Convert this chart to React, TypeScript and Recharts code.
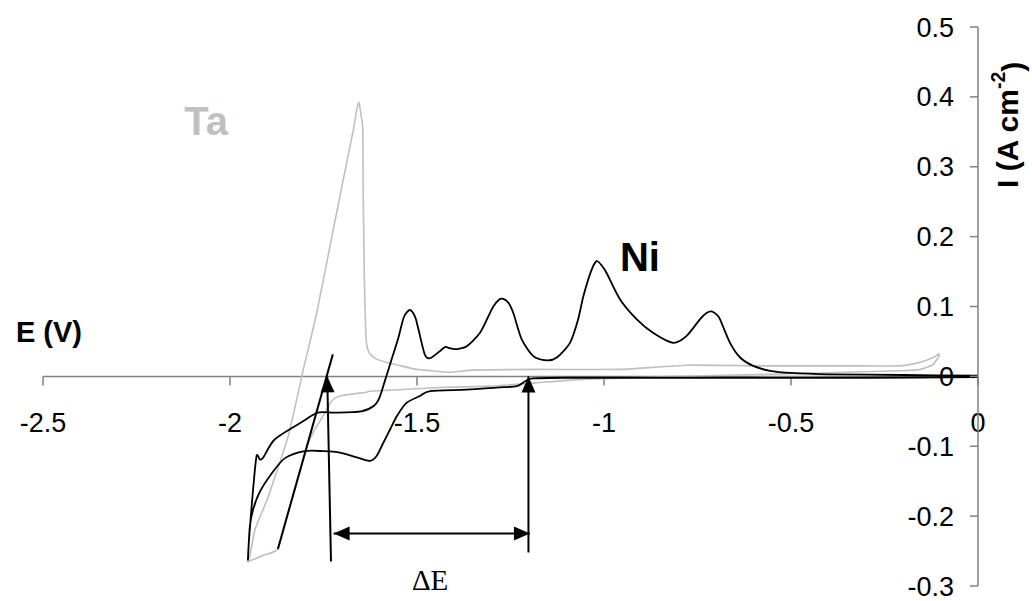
import React from 'react';
import { ComposedChart, Line, XAxis, YAxis, ReferenceLine, ReferenceDot } from 'recharts';

const FONT = '"Liberation Sans", Arial, Helvetica, sans-serif';
const SERIF = '"Liberation Serif", "Times New Roman", Times, serif';

// Axis ticks
const X_TICKS = [-2.5, -2, -1.5, -1, -0.5, 0];
const X_TICK_LABELS = ['-2.5', '-2', '-1.5', '-1', '-0.5', '0'];
const Y_TICKS = [0.5, 0.4, 0.3, 0.2, 0.1, 0, -0.1, -0.2, -0.3];

// Ta voltammogram (E in V, I in A cm-2)
const TA_E = [
  -0.102, -0.12, -0.155, -0.209, -0.35, -0.556, -0.8, -1.047, -1.225, -1.305, -1.439, -1.617, -1.639,
  -1.706, -1.728, -1.746, -1.773, -1.794, -1.82, -1.847, -1.872, -1.91, -1.952,
  -1.947, -1.933, -1.897, -1.844, -1.804, -1.768, -1.724, -1.688, -1.67, -1.661, -1.655, -1.65, -1.645,
  -1.644, -1.641, -1.636, -1.628, -1.61, -1.581, -1.55, -1.5, -1.412, -1.35, -1.171, -0.957, -0.779,
  -0.556, -0.3, -0.209, -0.155, -0.12, -0.102,
];
const TA_I = [
  0.031, 0.017, 0.01, 0.008, 0.006, 0.003, 0.0, -0.004, -0.011, -0.014, -0.016, -0.021, -0.023,
  -0.028, -0.035, -0.052, -0.076, -0.1, -0.15, -0.2, -0.247, -0.256, -0.265,
  -0.257, -0.219, -0.171, -0.085, 0.01, 0.091, 0.21, 0.306, 0.353, 0.382, 0.392, 0.375, 0.355,
  0.272, 0.149, 0.053, 0.034, 0.025, 0.02, 0.016, 0.01, 0.006, 0.009, 0.01, 0.01, 0.016,
  0.015, 0.015, 0.015, 0.02, 0.027, 0.033,
];

// Ni voltammogram
const NI_E = [
  0, -0.3, -0.6, -0.9, -1.1, -1.19, -1.211, -1.233, -1.287, -1.367, -1.465, -1.492, -1.528, -1.554,
  -1.572, -1.59, -1.608, -1.626, -1.661, -1.706, -1.75, -1.8, -1.853, -1.89, -1.92, -1.938, -1.947, -1.952,
  -1.95, -1.945, -1.938, -1.929, -1.92, -1.911, -1.88, -1.81, -1.765, -1.72, -1.649, -1.615, -1.6, -1.585,
  -1.568, -1.55, -1.535, -1.519, -1.505, -1.496, -1.479, -1.465, -1.439, -1.425, -1.41, -1.394, -1.367,
  -1.332, -1.31, -1.296, -1.28, -1.269, -1.255, -1.242, -1.22, -1.189, -1.153, -1.126, -1.091, -1.07,
  -1.055, -1.035, -1.02, -1.005, -0.993, -0.957, -0.913, -0.868, -0.815, -0.779, -0.743, -0.725, -0.712,
  -0.698, -0.69, -0.663, -0.636, -0.601, -0.556, -0.5, -0.4, -0.2, 0,
];
const NI_I = [
  -0.001, -0.002, -0.002, -0.002, -0.002, -0.003, -0.007, -0.014, -0.016, -0.019, -0.021, -0.028, -0.038, -0.057,
  -0.076, -0.095, -0.114, -0.121, -0.116, -0.109, -0.107, -0.107, -0.117, -0.14, -0.165, -0.19, -0.215, -0.262,
  -0.24, -0.205, -0.16, -0.114, -0.119, -0.116, -0.09, -0.066, -0.052, -0.052, -0.05, -0.042, -0.03, -0.005,
  0.024, 0.055, 0.085, 0.095, 0.085, 0.067, 0.031, 0.026, 0.036, 0.042, 0.04, 0.039, 0.043,
  0.062, 0.085, 0.1, 0.11, 0.111, 0.105, 0.09, 0.053, 0.029, 0.023, 0.027, 0.048, 0.08,
  0.115, 0.15, 0.165, 0.158, 0.148, 0.11, 0.082, 0.062, 0.048, 0.058, 0.082, 0.091, 0.093,
  0.088, 0.082, 0.048, 0.027, 0.015, 0.008, 0.005, 0.003, 0.002, 0.001,
];

// Tangent to the Ta reduction wave
const TANGENT_E = [-1.872, -1.725];
const TANGENT_I = [-0.247, 0.0315];

// Annotation arrows (E, I)
const ARROW_LEFT = [[-1.73, -0.265], [-1.74, 0]];
const ARROW_RIGHT = [[-1.202, -0.252], [-1.202, 0]];
const ARROW_DELTA = [[-1.723, -0.225], [-1.198, -0.225]];

const zip = (e: number[], i: number[]) => e.map((x, k) => ({ x, y: i[k] }));
const taData = zip(TA_E, TA_I);
const niData = zip(NI_E, NI_I);
const tangentData = zip(TANGENT_E, TANGENT_I);

const AXIS_COLOR = '#808080';

// Cardinal-spline curve factory (smooth line through the measured points, any x order)
const cardinal = (tension: number) => (context: any) => {
  let pts: [number, number][] = [];
  return {
    areaStart() {},
    areaEnd() {},
    lineStart() {
      pts = [];
    },
    point(x: number, y: number) {
      pts.push([+x, +y]);
    },
    lineEnd() {
      const n = pts.length;
      if (!n) return;
      context.moveTo(pts[0][0], pts[0][1]);
      const k = (1 - tension) / 6;
      for (let i = 0; i < n - 1; i++) {
        const p0 = pts[i === 0 ? 0 : i - 1];
        const p1 = pts[i];
        const p2 = pts[i + 1];
        const p3 = pts[i + 2 < n ? i + 2 : n - 1];
        context.bezierCurveTo(
          p1[0] + k * (p2[0] - p0[0]),
          p1[1] + k * (p2[1] - p0[1]),
          p2[0] - k * (p3[0] - p1[0]),
          p2[1] - k * (p3[1] - p1[1]),
          p2[0],
          p2[1]
        );
      }
    },
  };
};

const head = (tx: number, ty: number, a: number) => {
  const L = 16;
  const W = 7;
  const bx = tx - L * Math.cos(a);
  const by = ty - L * Math.sin(a);
  return `${tx},${ty} ${bx + W * Math.sin(a)},${by - W * Math.cos(a)} ${bx - W * Math.sin(a)},${by + W * Math.cos(a)}`;
};

const arrowShape = (both: boolean) => (p: any) => {
  const { x1, y1, x2, y2 } = p;
  const a = Math.atan2(y2 - y1, x2 - x1);
  return (
    <g>
      <line x1={x1} y1={y1} x2={x2} y2={y2} stroke="#000" strokeWidth={2} />
      <polygon points={head(x2, y2, a)} fill="#000" />
      {both && <polygon points={head(x1, y1, a + Math.PI)} fill="#000" />}
    </g>
  );
};

const xTickShape = (label: string) => (p: any) => {
  const { x1, y1, x2, y2 } = p;
  return (
    <g>
      <line x1={x1} y1={y1} x2={x2} y2={y2} stroke={AXIS_COLOR} strokeWidth={1.5} />
      <text x={x1} y={y1 + 56} textAnchor="middle" fontFamily={FONT} fontSize={27} fill="#000">
        {label}
      </text>
    </g>
  );
};

const textShape = (content: React.ReactNode, style: any, rotate = false) => (p: any) => {
  const { cx, cy } = p;
  return (
    <text
      x={cx}
      y={cy}
      textAnchor="middle"
      dominantBaseline="central"
      transform={rotate ? `rotate(-90, ${cx}, ${cy})` : undefined}
      {...style}
    >
      {content}
    </text>
  );
};

export default function App() {
  return (
    <div style={{ position: 'absolute', left: 0, top: 0, width: 1032, height: 601, background: '#fff' }}>
      <ComposedChart width={1032} height={601} margin={{ top: 27, right: 54, bottom: 15, left: 43 }}>
        <XAxis type="number" dataKey="x" domain={[-2.5, 0]} hide allowDataOverflow />
        <YAxis
          type="number"
          orientation="right"
          mirror
          domain={[-0.3, 0.5]}
          ticks={Y_TICKS}
          interval={0}
          allowDataOverflow
          tickSize={8}
          tickMargin={16}
          stroke={AXIS_COLOR}
          axisLine={{ stroke: AXIS_COLOR, strokeWidth: 1.5 }}
          tickLine={{ stroke: AXIS_COLOR, strokeWidth: 1.5 }}
          tick={{ fontSize: 27, fill: '#000', fontFamily: FONT }}
          tickFormatter={(v: number) => String(v)}
        />
        <ReferenceLine y={0} stroke={AXIS_COLOR} strokeWidth={1.5} />
        {X_TICKS.map((v, k) => (
          <ReferenceLine
            key={`xt${k}`}
            segment={[{ x: v, y: 0 }, { x: v, y: -0.013 }]}
            ifOverflow="visible"
            shape={xTickShape(X_TICK_LABELS[k])}
          />
        ))}
        <Line
          data={taData}
          dataKey="y"
          type={cardinal(0.5) as any}
          stroke="#c0c0c0"
          strokeWidth={1.6}
          dot={false}
          activeDot={false}
          isAnimationActive={false}
        />
        <Line
          data={niData}
          dataKey="y"
          type={cardinal(0.2) as any}
          stroke="#000"
          strokeWidth={1.8}
          dot={false}
          activeDot={false}
          isAnimationActive={false}
        />
        <Line
          data={tangentData}
          dataKey="y"
          type="linear"
          stroke="#000"
          strokeWidth={2}
          dot={false}
          activeDot={false}
          isAnimationActive={false}
        />
        <ReferenceLine
          segment={ARROW_LEFT.map(([x, y]) => ({ x, y }))}
          ifOverflow="visible"
          shape={arrowShape(false)}
        />
        <ReferenceLine
          segment={ARROW_RIGHT.map(([x, y]) => ({ x, y }))}
          ifOverflow="visible"
          shape={arrowShape(false)}
        />
        <ReferenceLine
          segment={ARROW_DELTA.map(([x, y]) => ({ x, y }))}
          ifOverflow="visible"
          shape={arrowShape(true)}
        />
        <ReferenceDot
          x={-2.064}
          y={0.366}
          ifOverflow="visible"
          shape={textShape('Ta', { fontFamily: FONT, fontSize: 40, fontWeight: 'bold', fill: '#c0c0c0' })}
        />
        <ReferenceDot
          x={-0.904}
          y={0.171}
          ifOverflow="visible"
          shape={textShape('Ni', { fontFamily: FONT, fontSize: 40, fontWeight: 'bold', fill: '#000' })}
        />
        <ReferenceDot
          x={-2.484}
          y={0.063}
          ifOverflow="visible"
          shape={textShape('E (V)', { fontFamily: FONT, fontSize: 29, fontWeight: 'bold', fill: '#000' })}
        />
        <ReferenceDot
          x={-1.465}
          y={-0.292}
          ifOverflow="visible"
          shape={textShape('ΔE', { fontFamily: SERIF, fontSize: 29, fill: '#000' })}
        />
        <ReferenceDot
          x={0.078}
          y={0.36}
          ifOverflow="visible"
          shape={textShape(
            <>
              I (A cm
              <tspan dy="-0.45em" fontSize="65%">-2</tspan>
              <tspan dy="0.45em">)</tspan>
            </>,
            { fontFamily: FONT, fontSize: 30, fontWeight: 'bold', fill: '#000' },
            true
          )}
        />
      </ComposedChart>
    </div>
  );
}
